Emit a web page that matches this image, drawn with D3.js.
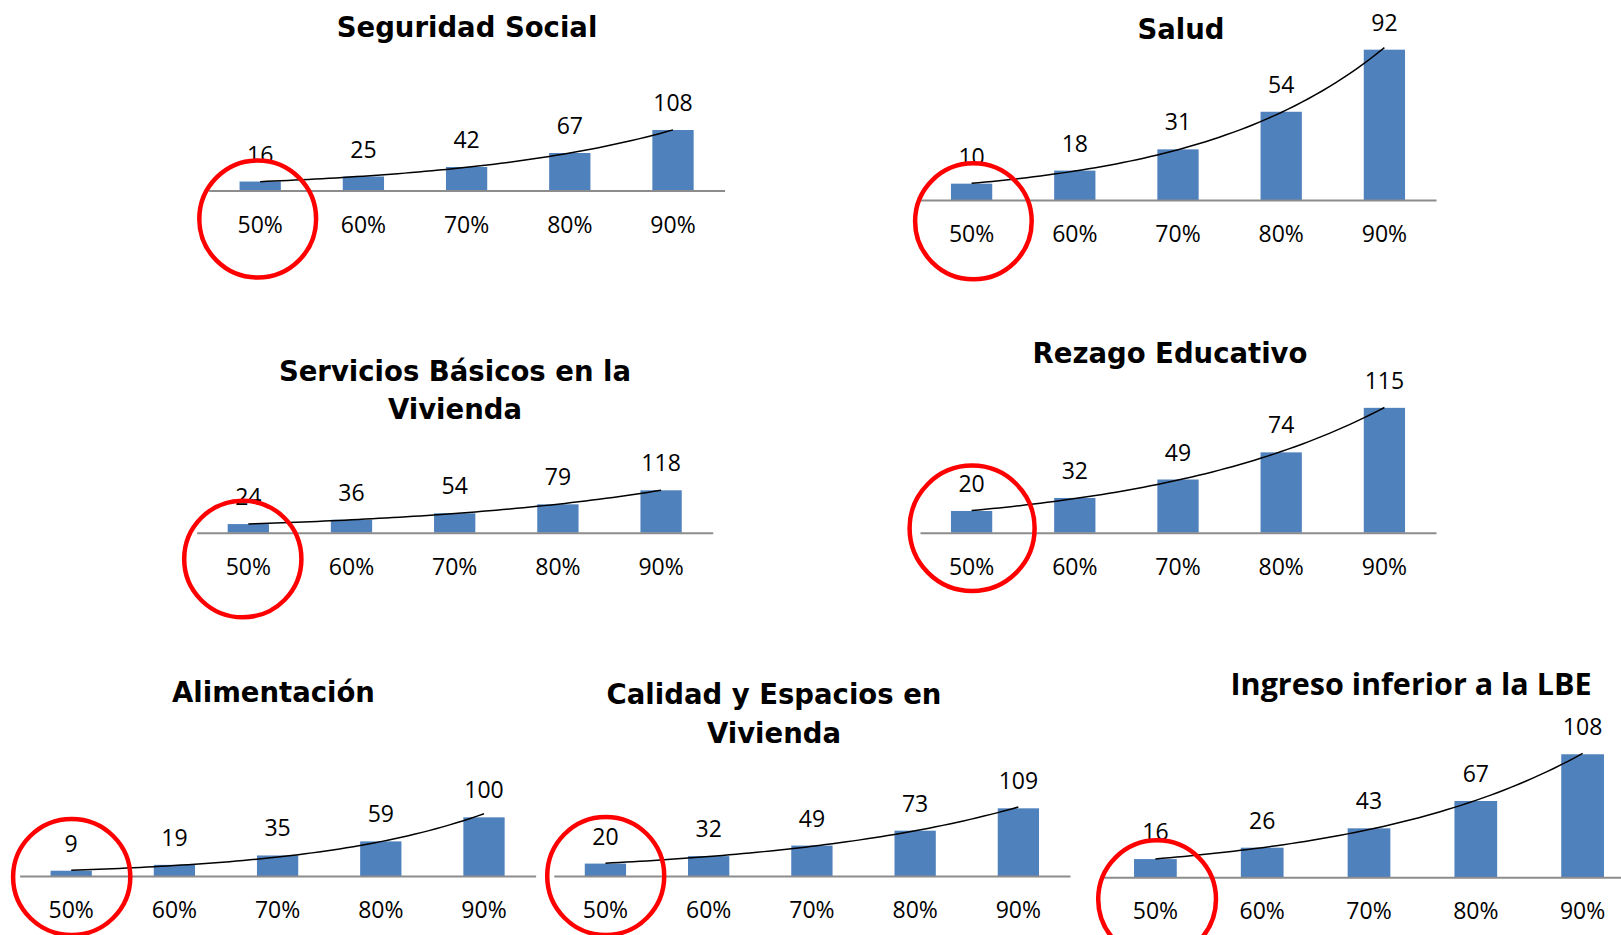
<!DOCTYPE html>
<html>
<head>
<meta charset="utf-8">
<script src="https://cdn.jsdelivr.net/npm/d3@7"></script>
<style>
  body { margin: 0; background: #fff; }
  .title { font-family: "DejaVu Sans", sans-serif; font-weight: bold; fill: #000; }
  .tick text, .value { font-family: "Open Sans", sans-serif; font-size: 23px; fill: #000; }
</style>
</head>
<body>
<div id="chart"></div>
<script>
// categories shared by all seven charts
const categories = ["50%", "60%", "70%", "80%", "90%"];

// values per indicator
const seguridadSocial = [16, 25, 42, 67, 108];
const salud = [10, 18, 31, 54, 92];
const serviciosBasicos = [24, 36, 54, 79, 118];
const rezagoEducativo = [20, 32, 49, 74, 115];
const alimentacion = [9, 19, 35, 59, 100];
const calidadEspacios = [20, 32, 49, 73, 109];
const ingresoLBE = [16, 26, 43, 67, 108];

const titles = [
  ["Seguridad Social"],
  ["Salud"],
  ["Servicios Básicos en la", "Vivienda"],
  ["Rezago Educativo"],
  ["Alimentación"],
  ["Calidad y Espacios en", "Vivienda"],
  ["Ingreso inferior a la LBE"]
];
const series = [seguridadSocial, salud, serviciosBasicos, rezagoEducativo, alimentacion, calidadEspacios, ingresoLBE];

// layout of each small chart (pixels), kept apart from the data
const layout = [
  { x0: 208.6, x1: 724.6, base: 190.5, yMax: 120, ph: 67.2, tx: 467, ty: [36.7], circ: [-2.5, 28.5, 58.4, 58.5] },
  { x0: 920, x1: 1436, base: 200, yMax: 100, ph: 163.4, tx: 1181, ty: [39.3], circ: [1.8, 21.3, 58.3, 58] },
  { x0: 196.7, x1: 712.7, base: 532.7, yMax: 140, ph: 50.3, tx: 455, ty: [380.7, 419.3], circ: [-5.5, 26.3, 58.6, 58.3] },
  { x0: 920, x1: 1436, base: 532.7, yMax: 140, ph: 152, tx: 1170, ty: [363.3], circ: [0.5, -4.4, 62.5, 62.7] },
  { x0: 19.6, x1: 535.6, base: 876, yMax: 120, ph: 70.4, tx: 273.5, ty: [701.7], circ: [0.5, 1, 58.6, 58] },
  { x0: 553.8, x1: 1070, base: 876, yMax: 120, ph: 74.5, tx: 774, ty: [704, 743.3], circ: [0.3, 0, 58.5, 59] },
  { x0: 1102, x1: 1636, base: 877.3, yMax: 120, ph: 136.7, tx: 1411, ty: [695], circ: [1.7, 22, 58.9, 59], calibri: true }
];

const w = 1621;
const h = 935;

const svg = d3.select("#chart")
  .append("svg")
  .attr("width", w)
  .attr("height", h)
  .style("display", "block");

// Excel-style exponential trendline: least squares on ln(y)
function expFit(vals) {
  const xs = vals.map((d, i) => i + 1);
  const ls = vals.map(d => Math.log(d));
  const mx = d3.mean(xs), ml = d3.mean(ls);
  const b = d3.sum(xs, (x, i) => (x - mx) * (ls[i] - ml)) / d3.sum(xs, x => (x - mx) * (x - mx));
  const a = ml - b * mx;
  return x => Math.exp(a + b * x);
}

series.forEach((vals, k) => {
  const L = layout[k];
  const g = svg.append("g");

  const x = d3.scaleBand()
    .domain(categories)
    .range([L.x0, L.x1])
    .paddingInner(0.6)
    .paddingOuter(0.3);

  const y = d3.scaleLinear()
    .domain([0, L.yMax])
    .range([L.base, L.base - L.ph]);

  // bars
  g.selectAll("rect")
    .data(vals)
    .enter()
    .append("rect")
    .attr("x", (d, i) => x(categories[i]))
    .attr("y", d => y(d))
    .attr("width", x.bandwidth())
    .attr("height", d => L.base - y(d))
    .attr("fill", "#4f81bd");

  // axis line + category labels
  const axis = g.append("g")
    .attr("transform", `translate(0, ${L.base})`)
    .call(d3.axisBottom(x).tickSize(0).tickSizeOuter(0));
  axis.select(".domain").attr("stroke", "#8c8c8c").attr("stroke-width", 2);
  axis.selectAll(".tick text")
    .attr("dy", null)
    .attr("y", 42);
  axis.attr("font-size", null).attr("font-family", null);

  // value labels
  g.selectAll(".value")
    .data(vals)
    .enter()
    .append("text")
    .attr("class", "value")
    .attr("text-anchor", "middle")
    .attr("x", (d, i) => x(categories[i]) + x.bandwidth() / 2)
    .attr("y", d => y(d) - 19)
    .text(d => d);

  // trendline
  const fit = expFit(vals);
  const xl = d3.scaleLinear()
    .domain([1, vals.length])
    .range([x(categories[0]) + x.bandwidth() / 2, x(categories[vals.length - 1]) + x.bandwidth() / 2]);
  const pts = d3.range(0, 61).map(t => 1 + t * (vals.length - 1) / 60);
  g.append("path")
    .datum(pts)
    .attr("fill", "none")
    .attr("stroke", "#000")
    .attr("stroke-width", 1.5)
    .attr("d", d3.line().x(t => xl(t)).y(t => y(fit(t))));

  // title
  const title = g.append("text")
    .attr("class", "title")
    .attr("text-anchor", "middle")
    .style("font-size", L.calibri ? "30.5px" : "27.5px");
  if (L.calibri) title.style("font-family", "'Open Sans', sans-serif");
  titles[k].forEach((line, j) => {
    title.append("tspan")
      .attr("x", L.tx)
      .attr("y", L.ty[j])
      .text(line);
  });

  // red highlight around the 50% column
  const c = L.circ;
  g.append("ellipse")
    .attr("cx", x(categories[0]) + x.bandwidth() / 2 + c[0])
    .attr("cy", L.base + c[1])
    .attr("rx", c[2])
    .attr("ry", c[3])
    .attr("fill", "none")
    .attr("stroke", "#ff0000")
    .attr("stroke-width", 4.5);
});
</script>
</body>
</html>
